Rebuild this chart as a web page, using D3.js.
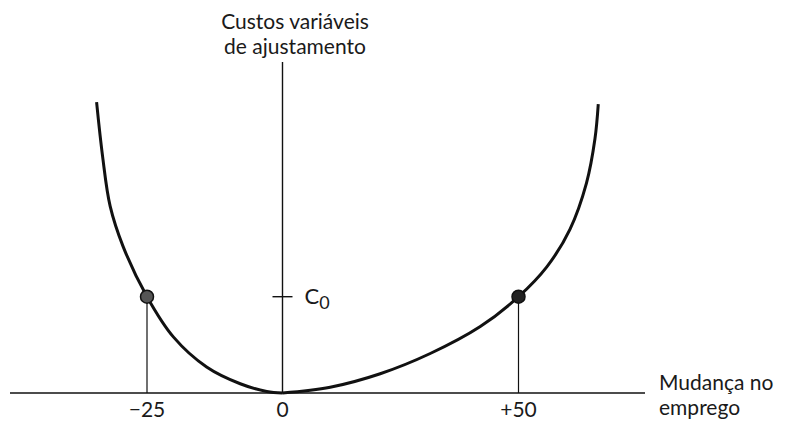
<!DOCTYPE html>
<html>
<head>
<meta charset="utf-8">
<script src="https://cdn.jsdelivr.net/npm/d3@7/dist/d3.min.js"></script>
<style>
  html, body { margin: 0; padding: 0; background: #fff; }
  svg text { font-family: Lato, "Open Sans", sans-serif; fill: #1a1a1a; }
</style>
</head>
<body>
<svg id="chart" width="788" height="423"></svg>
<script>
// Variable adjustment cost as a function of the change in employment
// (cost expressed in units of C0).
const leftChange  = [-34.3, -33.2, -31.8, -29.4, -25, -20.1, -14.0, -7.8, -2.9, 0];
const leftCost    = [3.02, 2.46, 1.94, 1.52, 1.0, 0.58, 0.27, 0.096, 0.016, 0];
const rightChange = [0, 10.1, 20.7, 31.3, 41.9, 50, 56.0, 60.9, 64.4, 66.2, 66.9];
const rightCost   = [0, 0.06, 0.20, 0.41, 0.69, 1.0, 1.31, 1.70, 2.18, 2.64, 3.0];

// Marked points on the curve (changes that cost the same C0)
const markedChange = [-25, 50];
const markedCost   = [1, 1];

const tickValues = [-25, 0, 50];
const tickLabels = ["\u221225", "0", "+50"];
const costTicks  = [1];
const costTickLabels = ["C0"];

const yTitle = ["Custos variáveis", "de ajustamento"];
const xTitle = ["Mudança no", "emprego"];

const svg = d3.select("#chart");

// Schematic axis: the two sides are drawn at slightly different spacing
const x = d3.scaleLinear().domain([-25, 0, 50]).range([147, 282.5, 518.5]);
const y = d3.scaleLinear().domain([0, 1]).range([393, 296.7]);

const ink = "#111";

// Horizontal axis
svg.append("line")
  .attr("x1", 10).attr("x2", 645)
  .attr("y1", y(0)).attr("y2", y(0))
  .attr("stroke", ink).attr("stroke-width", 1.6);

// Vertical axis
svg.append("line")
  .attr("x1", x(0)).attr("x2", x(0))
  .attr("y1", 62).attr("y2", y(0))
  .attr("stroke", ink).attr("stroke-width", 1.4);

// C0 tick on the cost axis
costTicks.forEach((c, i) => {
  svg.append("line")
    .attr("x1", x(0) - 10).attr("x2", x(0) + 10)
    .attr("y1", y(c)).attr("y2", y(c))
    .attr("stroke", ink).attr("stroke-width", 1.4);
  const t = svg.append("text")
    .attr("x", x(0) + 22).attr("y", y(c) + 7)
    .attr("font-size", 22);
  t.append("tspan").text(costTickLabels[i].charAt(0));
  t.append("tspan").attr("dy", 5).attr("font-size", 18).text(costTickLabels[i].slice(1));
});

// Drop lines from the marked points to the axis
markedChange.forEach((d, i) => {
  svg.append("line")
    .attr("x1", x(d)).attr("x2", x(d))
    .attr("y1", y(markedCost[i])).attr("y2", y(0))
    .attr("stroke", ink).attr("stroke-width", 1.2);
});

// Cost curve
const line = d3.line()
  .x(d => x(d[0])).y(d => y(d[1]))
  .curve(d3.curveCatmullRom.alpha(0.5));

const leftPts = leftChange.map((d, i) => [d, leftCost[i]]);
const rightPts = rightChange.map((d, i) => [d, rightCost[i]]);

[leftPts, rightPts].forEach(pts => {
  svg.append("path")
    .attr("d", line(pts))
    .attr("fill", "none")
    .attr("stroke", ink)
    .attr("stroke-width", 3);
});

// Marked points
markedChange.forEach((d, i) => {
  svg.append("circle")
    .attr("cx", x(d)).attr("cy", y(markedCost[i]))
    .attr("r", 6.5)
    .attr("fill", i === 0 ? "#555" : "#222")
    .attr("stroke", ink).attr("stroke-width", 1.5);
});

// Tick labels on the employment axis
tickValues.forEach((v, i) => {
  svg.append("text")
    .attr("x", x(v)).attr("y", 417)
    .attr("text-anchor", "middle")
    .attr("font-size", 21)
    .text(tickLabels[i]);
});

// Axis titles
yTitle.forEach((s, i) => {
  svg.append("text")
    .attr("x", 295).attr("y", 29 + i * 25)
    .attr("text-anchor", "middle")
    .attr("font-size", 21)
    .text(s);
});

xTitle.forEach((s, i) => {
  svg.append("text")
    .attr("x", 659).attr("y", 390 + i * 25)
    .attr("font-size", 21)
    .text(s);
});
</script>
</body>
</html>
